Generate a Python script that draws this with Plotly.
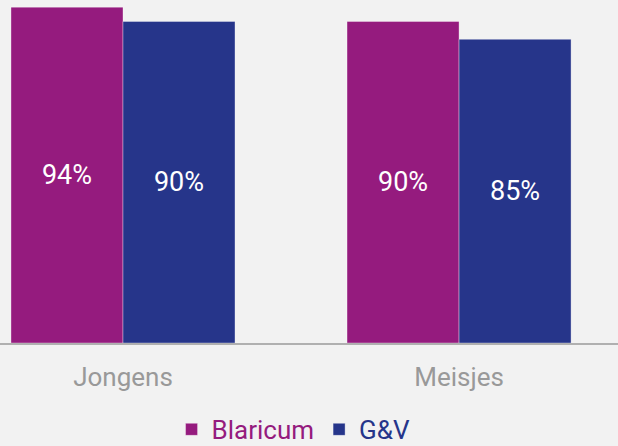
import plotly.graph_objects as go

categories = ["Jongens", "Meisjes"]
blaricum = [94, 90]
gv = [90, 85]
series_names = ["Blaricum", "G&V"]
colors = ["#951b7e", "#26358a"]

fig = go.Figure()
for name, vals, col in zip(series_names, [blaricum, gv], colors):
    fig.add_trace(go.Bar(
        x=categories, y=vals,
        name=f"<span style='color:{col}'>{name}</span>",
        marker=dict(color=col, line=dict(color="rgba(255,255,255,0.35)", width=1)),
        text=[f"{v}%" for v in vals],
        textposition="inside", insidetextanchor="middle",
        textfont=dict(color="white", size=27, family="Roboto"),
        textangle=0,
    ))

fig.update_layout(
    width=618, height=446,
    margin=dict(l=0, r=0, t=0, b=103, autoexpand=False),
    paper_bgcolor="#f2f2f2", plot_bgcolor="#f2f2f2",
    barmode="group", bargap=1/3, bargroupgap=0,
    font=dict(family="Roboto", size=26, color="#999999"),
    showlegend=True,
    legend=dict(orientation="h", x=0.475, xanchor="center", y=-0.252, yanchor="middle",
                font=dict(size=26), itemwidth=30, traceorder="normal"),
    uniformtext=dict(mode=False),
)
fig.update_xaxes(range=[-0.366, 1.473], showline=True, linecolor="#b0b0b0", linewidth=2,
                 ticks="outside", ticklen=10, tickcolor="rgba(0,0,0,0)",
                 tickfont=dict(size=26, color="#999999"), showgrid=False, fixedrange=True)
fig.update_yaxes(range=[0, 96], visible=False, showgrid=False, zeroline=False, fixedrange=True)

fig.write_html("out.html", config={"displayModeBar": False})
with open("out.html", "r", encoding="utf-8") as f:
    html = f.read()
html = html.replace("<head>", "<head><style>html,body{margin:0;padding:0;background:#f2f2f2;}</style>", 1)
with open("out.html", "w", encoding="utf-8") as f:
    f.write(html)
